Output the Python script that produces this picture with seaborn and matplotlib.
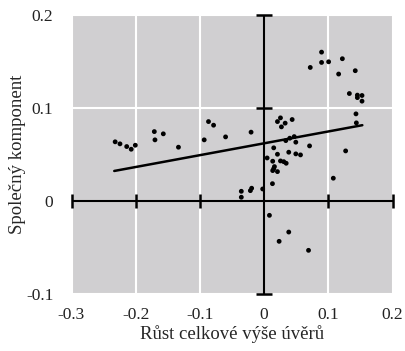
import numpy as np
import matplotlib
matplotlib.use("Agg")
import matplotlib.pyplot as plt
import seaborn as sns

# growth of total credit (x) vs common component (y)
credit_growth = [
    -0.232, -0.2245, -0.214, -0.207, -0.2006, -0.171, -0.170, -0.157, -0.1334,
    -0.0933, -0.0866, -0.0787, -0.060, -0.0203,
    0.0895, 0.0719, 0.0895, 0.1005, 0.1219, 0.1161, 0.142, 0.1328, 0.1453,
    0.1453, 0.1525, 0.1525, 0.1431, 0.1437,
    0.0208, 0.0255, 0.0328, 0.027, 0.0437, 0.040, 0.0338, 0.0469, 0.0494,
    0.0708, 0.015, 0.0047, 0.0208, 0.0384, 0.0494, 0.0567, 0.0134, 0.0255,
    0.0306, 0.0344, 0.0161, 0.015, 0.0208, 0.0134, 0.127, 0.1078,
    0.013, -0.0022, -0.0194, -0.0214, -0.0355, -0.0355,
    0.0083, 0.0384, 0.0234, 0.0692,
]
common_component = [
    0.0634, 0.0612, 0.0583, 0.0554, 0.0597, 0.0744, 0.0655, 0.072, 0.0576,
    0.0655, 0.0852, 0.0813, 0.0687, 0.0738,
    0.160, 0.1435, 0.1489, 0.1496, 0.1529, 0.1364, 0.140, 0.1154, 0.1137,
    0.111, 0.1133, 0.1072, 0.0935, 0.0838,
    0.0852, 0.0892, 0.0835, 0.0795, 0.0874, 0.0673, 0.0647, 0.069, 0.063,
    0.059, 0.0569, 0.046, 0.050, 0.0522, 0.0504, 0.0493, 0.0425, 0.0428,
    0.042, 0.0403, 0.0367, 0.0345, 0.0313, 0.0324, 0.0536, 0.0242,
    0.0183, 0.0126, 0.0134, 0.0108, 0.0101, 0.0037,
    -0.0158, -0.0338, -0.0438, -0.0535,
]

# Excel-style linear trendline endpoints
trend_x = [-0.2334, 0.153]
trend_y = [0.032, 0.0813]

x_ticks = [-0.3, -0.2, -0.1, 0, 0.1, 0.2]
x_labels = ["-0.3", "-0.2", "-0.1", "0", "0.1", "0.2"]
y_ticks = [-0.1, 0, 0.1, 0.2]
y_labels = ["-0.1", "0", "0.1", "0.2"]

sns.set_style("darkgrid", {"axes.facecolor": "#d0cfd1", "grid.color": "white"})
plt.rcParams["font.family"] = ["Liberation Serif", "DejaVu Serif"]

fig = plt.figure(figsize=(4.05, 3.51), dpi=100)
ax = fig.add_axes([71.5 / 405, 1 - 293.5 / 351, 321 / 405, 278.5 / 351])

ax.set_xlim(-0.3, 0.2)
ax.set_ylim(-0.1, 0.2)
ax.set_xticks(x_ticks)
ax.set_xticklabels(x_labels)
ax.set_yticks(y_ticks)
ax.set_yticklabels(y_labels)
ax.grid(True, color="white", linewidth=1.5)
ax.tick_params(length=0, labelsize=12.5, colors="#222222")
ax.tick_params(axis="x", pad=10)
ax.tick_params(axis="y", pad=13)
for s in ax.spines.values():
    s.set_visible(False)

# zero axes with crossing tick marks
ax.axhline(0, color="black", linewidth=1.5, zorder=3)
ax.axvline(0, color="black", linewidth=1.5, zorder=3)
xt = [t for t in x_ticks if t != 0]
yt = [t for t in y_ticks if t != 0]
ax.plot(xt, [0] * len(xt), ls="none", marker="|", ms=10, mew=1.8,
        color="black", zorder=3, clip_on=False)
ax.plot([0] * len(yt), yt, ls="none", marker="_", ms=11, mew=1.8,
        color="black", zorder=3, clip_on=False)

sns.scatterplot(x=credit_growth, y=common_component, ax=ax, color="black",
                s=12, edgecolor="none", zorder=4)
sns.lineplot(x=trend_x, y=trend_y, ax=ax, color="black", linewidth=1.8,
             zorder=4)

ax.set_xlabel("Růst celkové výše úvěrů", fontsize=13.5, labelpad=1)
ax.set_ylabel("Společný komponent", fontsize=13.5, labelpad=0)

fig.savefig("out.png", dpi=100)
